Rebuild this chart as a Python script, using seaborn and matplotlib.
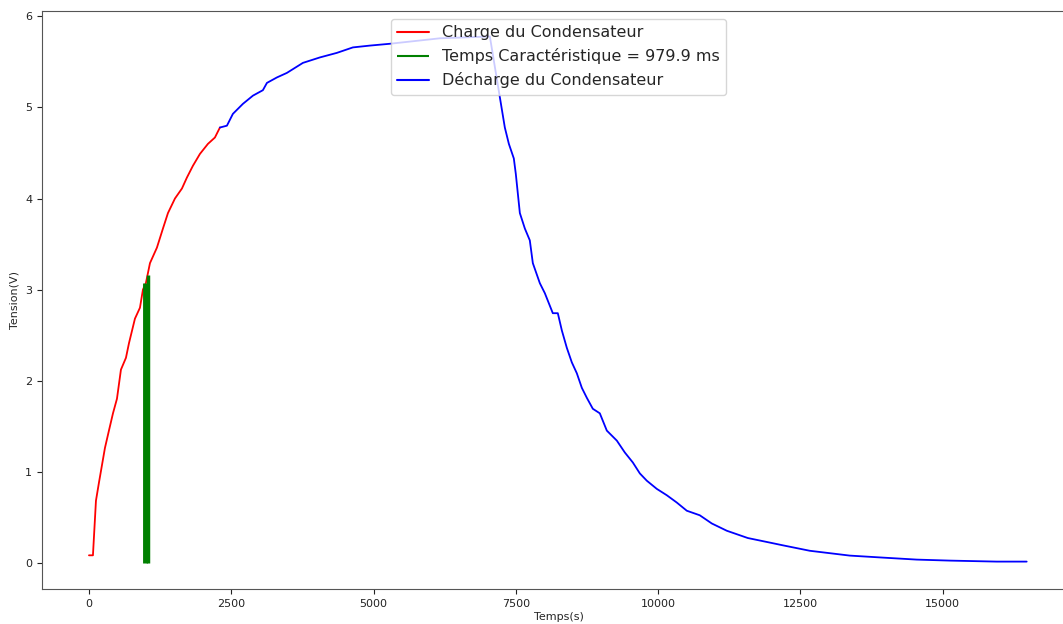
import matplotlib
matplotlib.use('Agg')
import matplotlib.pyplot as plt
import seaborn as sns

# charge (red part)
charge_t = [0, 70, 123, 176, 281, 351, 422, 492, 562, 650, 703, 808, 896, 949, 1000,
            1072, 1194, 1300, 1388, 1511, 1634, 1721, 1827, 1950, 2090, 2213, 2301]
charge_v = [0.08, 0.08, 0.68, 0.88, 1.26, 1.45, 1.64, 1.80, 2.12, 2.25, 2.41, 2.68, 2.80, 3.00, 3.07,
            3.29, 3.46, 3.67, 3.84, 4.00, 4.11, 4.23, 4.36, 4.49, 4.60, 4.67, 4.78]

# characteristic time bars
tau_t = [980, 1035]
tau_v = [3.07, 3.16]

# rest of charge + discharge (blue)
dech_t = [2301, 2424, 2529, 2705, 2881, 3056, 3127, 3302, 3478, 3759, 4058, 4356, 4637, 4936,
          5287, 6165, 7044, 7307, 7378, 7465, 7500, 7571, 7659, 7746, 7799, 7922, 8010, 8150,
          8238, 8309, 8396, 8484, 8572, 8660, 8748, 8853, 8976, 9099, 9275, 9415, 9556, 9679,
          9801, 9977, 10153, 10328, 10504, 10732, 10943, 11207, 11576, 11962, 12191, 12665,
          13367, 13947, 14544, 15124, 15949, 16476]
dech_v = [4.78, 4.80, 4.93, 5.04, 5.13, 5.19, 5.27, 5.33, 5.38, 5.49, 5.55, 5.60, 5.66, 5.68,
          5.70, 5.76, 5.78, 4.78, 4.60, 4.44, 4.27, 3.84, 3.67, 3.54, 3.29, 3.07, 2.96, 2.74,
          2.74, 2.55, 2.36, 2.20, 2.08, 1.92, 1.81, 1.69, 1.64, 1.45, 1.34, 1.21, 1.10, 0.98,
          0.90, 0.81, 0.74, 0.66, 0.57, 0.52, 0.43, 0.35, 0.27, 0.22, 0.19, 0.13,
          0.077, 0.055, 0.033, 0.022, 0.011, 0.011]

sns.set_style('ticks')
plt.rcParams['font.family'] = ['DejaVu Sans']

fig = plt.figure(figsize=(10.63, 6.24), dpi=100)
ax = fig.add_axes([42 / 1063, 35 / 624, 1033 / 1063, 578 / 624])

sns.lineplot(x=charge_t, y=charge_v, color='red', linewidth=1.3, sort=False,
             label='Charge du Condensateur', ax=ax)
ax.vlines(tau_t[0], 0, tau_v[0], color='green', linewidth=3.5,
          label='Temps Caractéristique = 979.9 ms')
ax.vlines(tau_t[1], 0, tau_v[1], color='green', linewidth=2.5)
sns.lineplot(x=dech_t, y=dech_v, color='blue', linewidth=1.3, sort=False,
             label='Décharge du Condensateur', ax=ax)

ax.set_xlim(-825, 17325)
ax.set_ylim(-0.29, 6.06)
ax.set_xticks([0, 2500, 5000, 7500, 10000, 12500, 15000])
ax.set_xlabel('Temps(s)', fontsize=8, labelpad=2)
ax.set_ylabel('Tension(V)', fontsize=8)
ax.tick_params(labelsize=8, colors='#222222', length=3.5)
for s in ax.spines.values():
    s.set_color('#555555')

leg = ax.legend(loc='upper center', fontsize=11.5, borderaxespad=0.5)
for h in leg.legend_handles:
    h.set_linewidth(1.5)

fig.savefig('out.png', dpi=100)
